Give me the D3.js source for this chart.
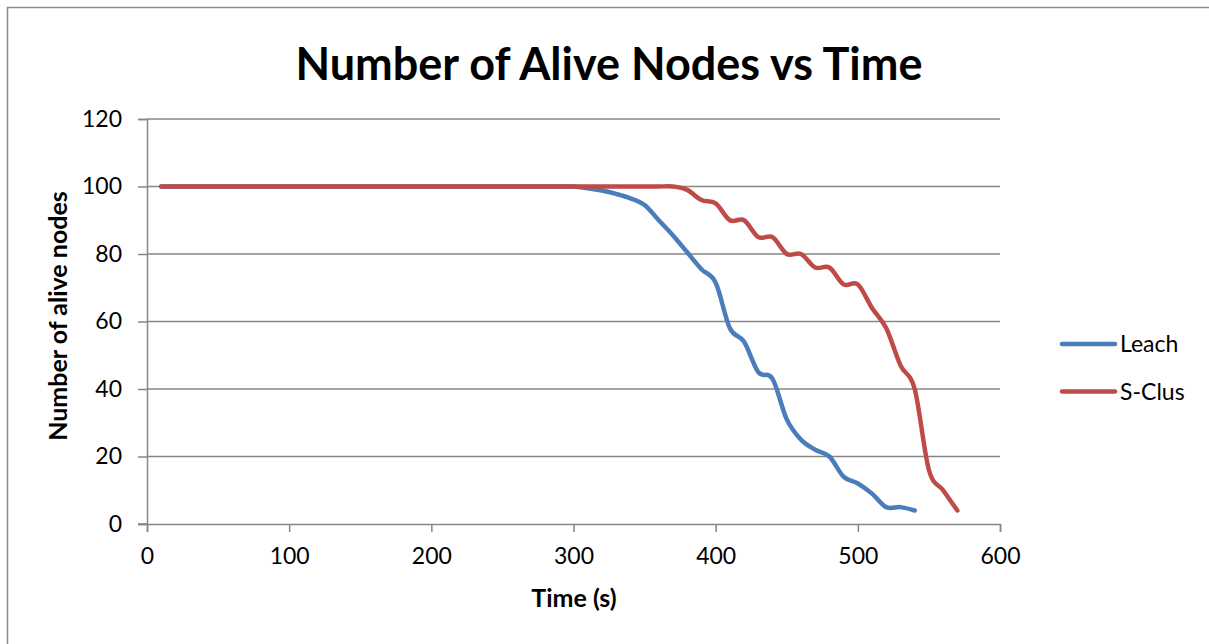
<!DOCTYPE html>
<html>
<head>
<meta charset="utf-8">
<script src="https://cdn.jsdelivr.net/npm/d3@7"></script>
<style>
  html, body { margin: 0; padding: 0; background: #fff; }
  svg { display: block; }
  text { font-family: Lato, "Open Sans", sans-serif; fill: #000; }
</style>
</head>
<body>
<svg id="chart" width="1209" height="644"></svg>
<script>
// ---- data ----
const leachTime = [10,20,30,40,50,60,70,80,90,100,110,120,130,140,150,160,170,180,190,200,
  210,220,230,240,250,260,270,280,290,300,310,320,330,340,350,360,370,380,390,400,
  410,420,430,440,450,460,470,480,490,500,510,520,530,540];
const leachAlive = [100,100,100,100,100,100,100,100,100,100,100,100,100,100,100,100,100,100,100,100,
  100,100,100,100,100,100,100,100,100,100,99.5,98.8,97.8,96.5,94.5,90,85.5,80.5,75.5,71.5,
  58,54,45,43,31,25,22,20,14,12,9,5,5,4];
const sclusTime = [10,20,30,40,50,60,70,80,90,100,110,120,130,140,150,160,170,180,190,200,
  210,220,230,240,250,260,270,280,290,300,310,320,330,340,350,360,370,380,390,400,
  410,420,430,440,450,460,470,480,490,500,510,520,530,540,550,560,570];
const sclusAlive = [100,100,100,100,100,100,100,100,100,100,100,100,100,100,100,100,100,100,100,100,
  100,100,100,100,100,100,100,100,100,100,100,100,100,100,100,100,100,99,96,95,
  90,90,85,85,80,80,76,76,71,71,64,58,47,40,16,10,4];
const seriesNames = ["Leach", "S-Clus"];
const seriesColors = ["#4A7EBB", "#BE4B48"];
const xTicks = [0,100,200,300,400,500,600];
const yTicks = [0,20,40,60,80,100,120];
const chartTitle = "Number of Alive Nodes vs Time";
const xTitle = "Time (s)";
const yTitle = "Number of alive nodes";

// ---- drawing ----
const svg = d3.select("#chart");
const grid = "#868686";

// outer border
svg.append("rect").attr("x", 7.5).attr("y", 7.5).attr("width", 1220).attr("height", 660)
  .attr("fill", "#fff").attr("stroke", "#8c8c8c").attr("stroke-width", 1.5);

const x = d3.scaleLinear().domain([0, 600]).range([147, 1000]);
const y = d3.scaleLinear().domain([0, 120]).range([524, 119]);

// gridlines
svg.append("g").selectAll("line").data(yTicks.filter(d => d > 0)).join("line")
  .attr("x1", x(0)).attr("x2", x(600)).attr("y1", d => y(d)).attr("y2", d => y(d))
  .attr("stroke", grid).attr("stroke-width", 1.5);

// y axis
const yAxis = d3.axisLeft(y).tickValues(yTicks).tickSize(9).tickPadding(16).tickFormat(d3.format("d"));
const gy = svg.append("g").attr("transform", `translate(${x(0)},0)`).call(yAxis);
gy.select(".domain").attr("stroke", grid).attr("stroke-width", 1.5);
gy.selectAll(".tick line").attr("stroke", grid).attr("stroke-width", 1.5);
gy.selectAll(".tick text").attr("font-size", 23).attr("font-family", "Lato, sans-serif").attr("fill", "#000");

// x axis
const xAxis = d3.axisBottom(x).tickValues(xTicks).tickSize(8).tickPadding(16).tickFormat(d3.format("d"));
const gx = svg.append("g").attr("transform", `translate(0,${y(0)})`).call(xAxis);
gx.select(".domain").attr("stroke", grid).attr("stroke-width", 1.5);
gx.selectAll(".tick line").attr("stroke", grid).attr("stroke-width", 1.5);
gx.selectAll(".tick text").attr("font-size", 23).attr("font-family", "Lato, sans-serif").attr("fill", "#000");
// extend x axis line to left to meet y tick
svg.append("line").attr("x1", x(0) - 9).attr("x2", x(0)).attr("y1", y(0)).attr("y2", y(0))
  .attr("stroke", grid).attr("stroke-width", 1.5);

// lines
const line = d3.line().x(d => x(d[0])).y(d => y(d[1])).curve(d3.curveCardinal.tension(0));
const series = [
  leachTime.map((t, i) => [t, leachAlive[i]]),
  sclusTime.map((t, i) => [t, sclusAlive[i]])
];
series.forEach((s, i) => {
  svg.append("path").datum(s).attr("d", line).attr("fill", "none")
    .attr("stroke", seriesColors[i]).attr("stroke-width", 4.5)
    .attr("stroke-linecap", "round").attr("stroke-linejoin", "round");
});

// title
svg.append("text").attr("x", 609).attr("y", 80).attr("text-anchor", "middle")
  .attr("font-size", 45).attr("font-weight", "bold").text(chartTitle);

// axis titles
svg.append("text").attr("x", 574).attr("y", 607).attr("text-anchor", "middle")
  .attr("font-size", 25).attr("font-weight", "bold").text(xTitle);
svg.append("text").attr("transform", "translate(67,316) rotate(-90)").attr("text-anchor", "middle")
  .attr("font-size", 25).attr("font-weight", "bold").text(yTitle);

// legend
const legY = [344, 391.5];
seriesNames.forEach((n, i) => {
  svg.append("line").attr("x1", 1062).attr("x2", 1115).attr("y1", legY[i]).attr("y2", legY[i])
    .attr("stroke", seriesColors[i]).attr("stroke-width", 4.5).attr("stroke-linecap", "round");
  svg.append("text").attr("x", 1120).attr("y", legY[i] + 8).attr("font-size", 23).text(n);
});
</script>
</body>
</html>
